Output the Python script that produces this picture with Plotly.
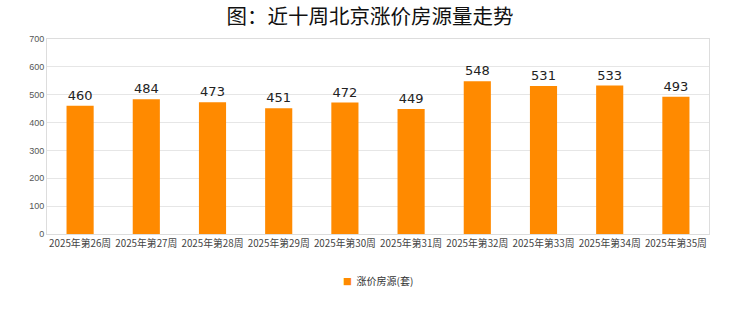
import plotly.graph_objects as go

categories = ["2025年第26周", "2025年第27周", "2025年第28周", "2025年第29周", "2025年第30周",
              "2025年第31周", "2025年第32周", "2025年第33周", "2025年第34周", "2025年第35周"]
values = [460, 484, 473, 451, 472, 449, 548, 531, 533, 493]
series_name = "涨价房源(套)"
title_text = "图：近十周北京涨价房源量走势"
bar_color = "#FF8A00"

fig = go.Figure()
fig.add_trace(go.Bar(
    x=categories, y=values, name=series_name,
    marker=dict(color=bar_color, line=dict(width=0)),
    width=0.41,
    text=values, textposition="outside",
    textfont=dict(family="DejaVu Sans", size=13, color="#222222"),
    cliponaxis=False, showlegend=False,
))

fig.update_layout(
    width=740, height=312,
    margin=dict(l=47, r=31, t=39, b=78),
    paper_bgcolor="white", plot_bgcolor="white",
    title=dict(text=title_text, x=0.5, xanchor="center", y=0.945, yanchor="middle",
               font=dict(family="Noto Sans CJK SC", size=20.5, color="#111111")),
    showlegend=False,
    bargap=0.59,
    annotations=[dict(
        text="<span style='color:%s;font-size:9px'>■</span>  %s" % (bar_color, series_name),
        xref="paper", yref="paper", x=0.5, xanchor="center", y=-0.24, yanchor="middle",
        showarrow=False, font=dict(family="Noto Sans CJK SC", size=10, color="#333333"),
    )],
)
fig.update_xaxes(
    type="category", showline=True, linecolor="#DDDDDD", linewidth=1, mirror=True,
    showgrid=False, ticks="", tickfont=dict(family="Noto Sans CJK SC", size=9.8, color="#444444"),
    tickangle=0,
)
fig.update_yaxes(
    range=[0, 700], dtick=100, showgrid=True, gridcolor="#E6E6E6", gridwidth=1,
    showline=True, linecolor="#DDDDDD", linewidth=1, mirror=True, zeroline=False,
    ticks="", tickfont=dict(family="Liberation Sans", size=9, color="#555555"),
)
fig.write_html("out.html")
